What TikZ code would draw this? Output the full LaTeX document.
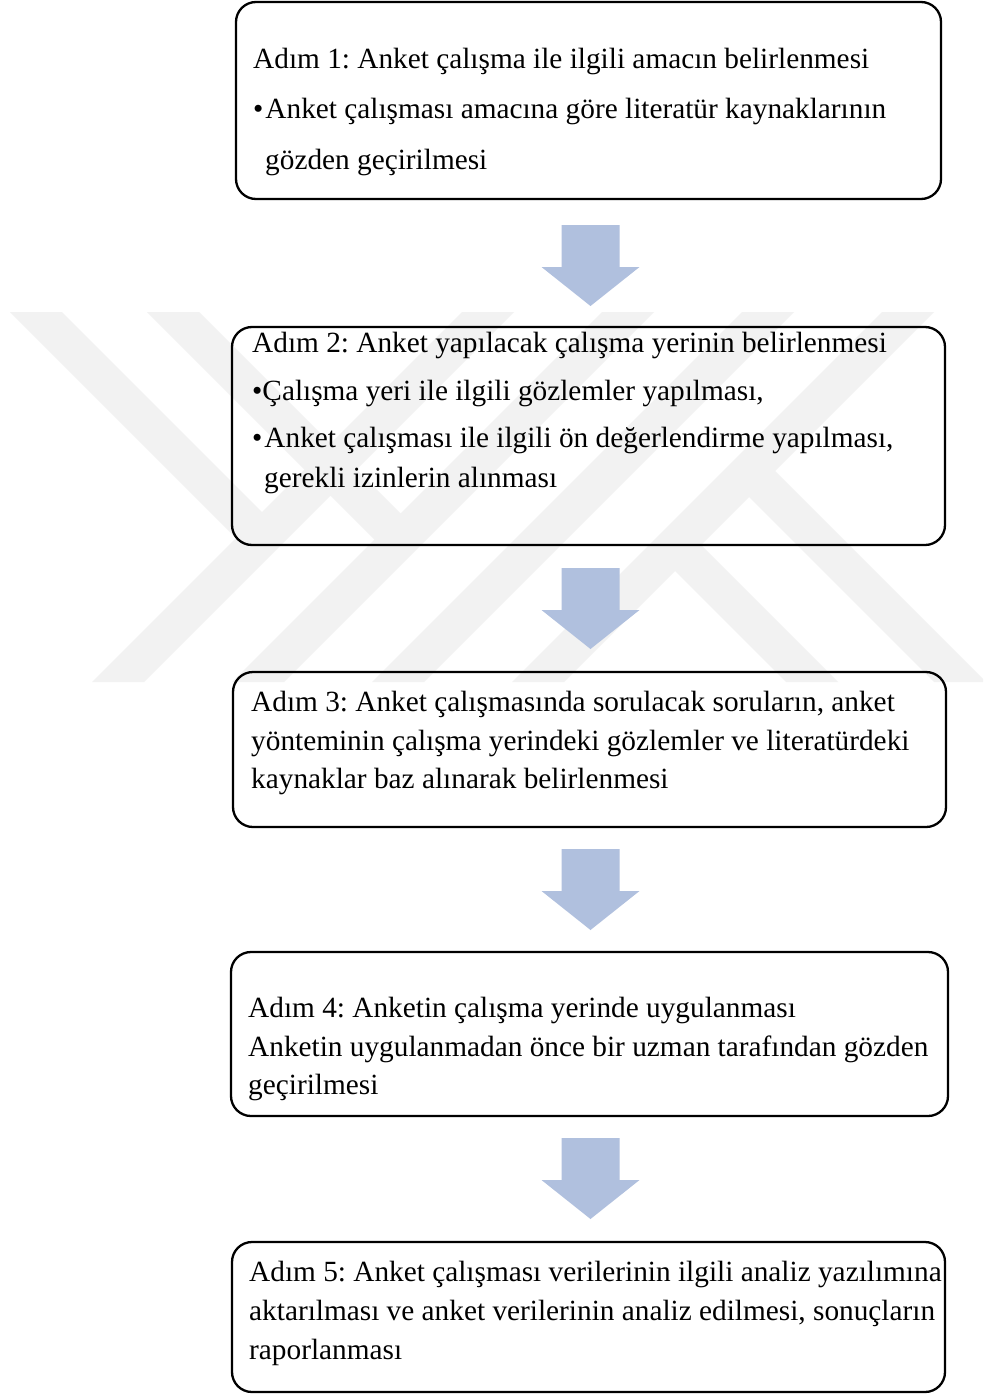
\documentclass[tikz,border=0pt]{standalone}
\usepackage{fontspec}
\setmainfont{Liberation Serif}
\frenchspacing
\definecolor{arrowblue}{RGB}{176,192,222}
\definecolor{wmark}{RGB}{242,242,242}
\tikzset{
  stepbox/.style={draw=black, line width=2.3pt, rounded corners=20pt, inner sep=0pt, fill=none},
  line/.style={anchor=base west, inner sep=0pt, font=\fontsize{29.3}{39}\selectfont},
  blockarrow/.style={fill=arrowblue, draw=none},
  wm/.style={fill=wmark, draw=none}
}
\newcommand{\myarrow}[2]{%
  \begin{scope}[shift={(0,#1)}]
    \fill[blockarrow] (561.5,0) -- (619.5,0) -- (619.5,42) -- (639.5,42) -- (590.5,81) -- (541.5,42) -- (561.5,42) -- cycle;
    \coordinate (#2) at (590.5,81);
  \end{scope}}
\begin{document}
\begin{tikzpicture}[x=1pt,y=-1pt]
\useasboundingbox (0,0) rectangle (983,1394);
\fill[white] (0,0) rectangle (983,1394);
% watermark
\begin{scope}
\clip (0,312) rectangle (983,682);
\fill[wm] (92,682) -- (144,682) -- (514,312) -- (462,312) -- cycle;
\fill[wm] (232,682) -- (284,682) -- (654,312) -- (602,312) -- cycle;
\fill[wm] (372,682) -- (424,682) -- (794,312) -- (742,312) -- cycle;
\fill[wm] (512,682) -- (564,682) -- (934,312) -- (882,312) -- cycle;
\fill[wm] (10,312) -- (62,312) -- (275,525) -- (249,551) -- cycle;
\fill[wm] (147,312) -- (199,312) -- (413.5,526.5) -- (387.5,552.5) -- cycle;
\fill[wm] (786,682) -- (838,682) -- (688,532) -- (662,558) -- cycle;
\fill[wm] (934,682) -- (986,682) -- (762,458) -- (736,484) -- cycle;
\end{scope}
% arrows
\myarrow{225}{a1}
\myarrow{568}{a2}
\myarrow{849}{a3}
\myarrow{1138}{a4}
% boxes
\node[stepbox, minimum width=705pt, minimum height=197pt] (b1) at (588.5,100.5) {};
\node[stepbox, minimum width=713pt, minimum height=218pt] (b2) at (588.5,436) {};
\node[stepbox, minimum width=713pt, minimum height=155pt] (b3) at (589.5,749.5) {};
\node[stepbox, minimum width=717pt, minimum height=164pt] (b4) at (589.5,1034) {};
\node[stepbox, minimum width=713pt, minimum height=150pt] (b5) at (588.5,1317) {};
% texts
\node[line] (t11) at (253,69) {Adım 1: Anket çalışma ile ilgili amacın belirlenmesi};
\node[line] (t12) at (253,119) {•\kern2pt Anket çalışması amacına göre literatür kaynaklarının};
\node[line] (t13) at (265,169) {gözden geçirilmesi};
\node[line] (t21) at (252,352) {Adım 2: Anket yapılacak çalışma yerinin belirlenmesi};
\node[line] (t22) at (252,400) {•Çalışma yeri ile ilgili gözlemler yapılması,};
\node[line] (t23) at (252,447) {•\kern2pt Anket çalışması ile ilgili ön değerlendirme yapılması,};
\node[line] (t24) at (264,487) {gerekli izinlerin alınması};
\node[line] (t31) at (251,711.5) {Adım 3: Anket çalışmasında sorulacak soruların, anket};
\node[line] (t32) at (251,750) {yönteminin çalışma yerindeki gözlemler ve literatürdeki};
\node[line] (t33) at (251,788.5) {kaynaklar baz alınarak belirlenmesi};
\node[line] (t41) at (248,1017) {Adım 4: Anketin çalışma yerinde uygulanması};
\node[line] (t42) at (248,1056) {Anketin uygulanmadan önce bir uzman tarafından gözden};
\node[line] (t43) at (248,1094.5) {geçirilmesi};
\node[line] (t51) at (249,1281) {Adım 5: Anket çalışması verilerinin ilgili analiz yazılımına};
\node[line] (t52) at (249,1320) {aktarılması ve anket verilerinin analiz edilmesi, sonuçların};
\node[line] (t53) at (249,1359) {raporlanması};
\end{tikzpicture}
\end{document}
